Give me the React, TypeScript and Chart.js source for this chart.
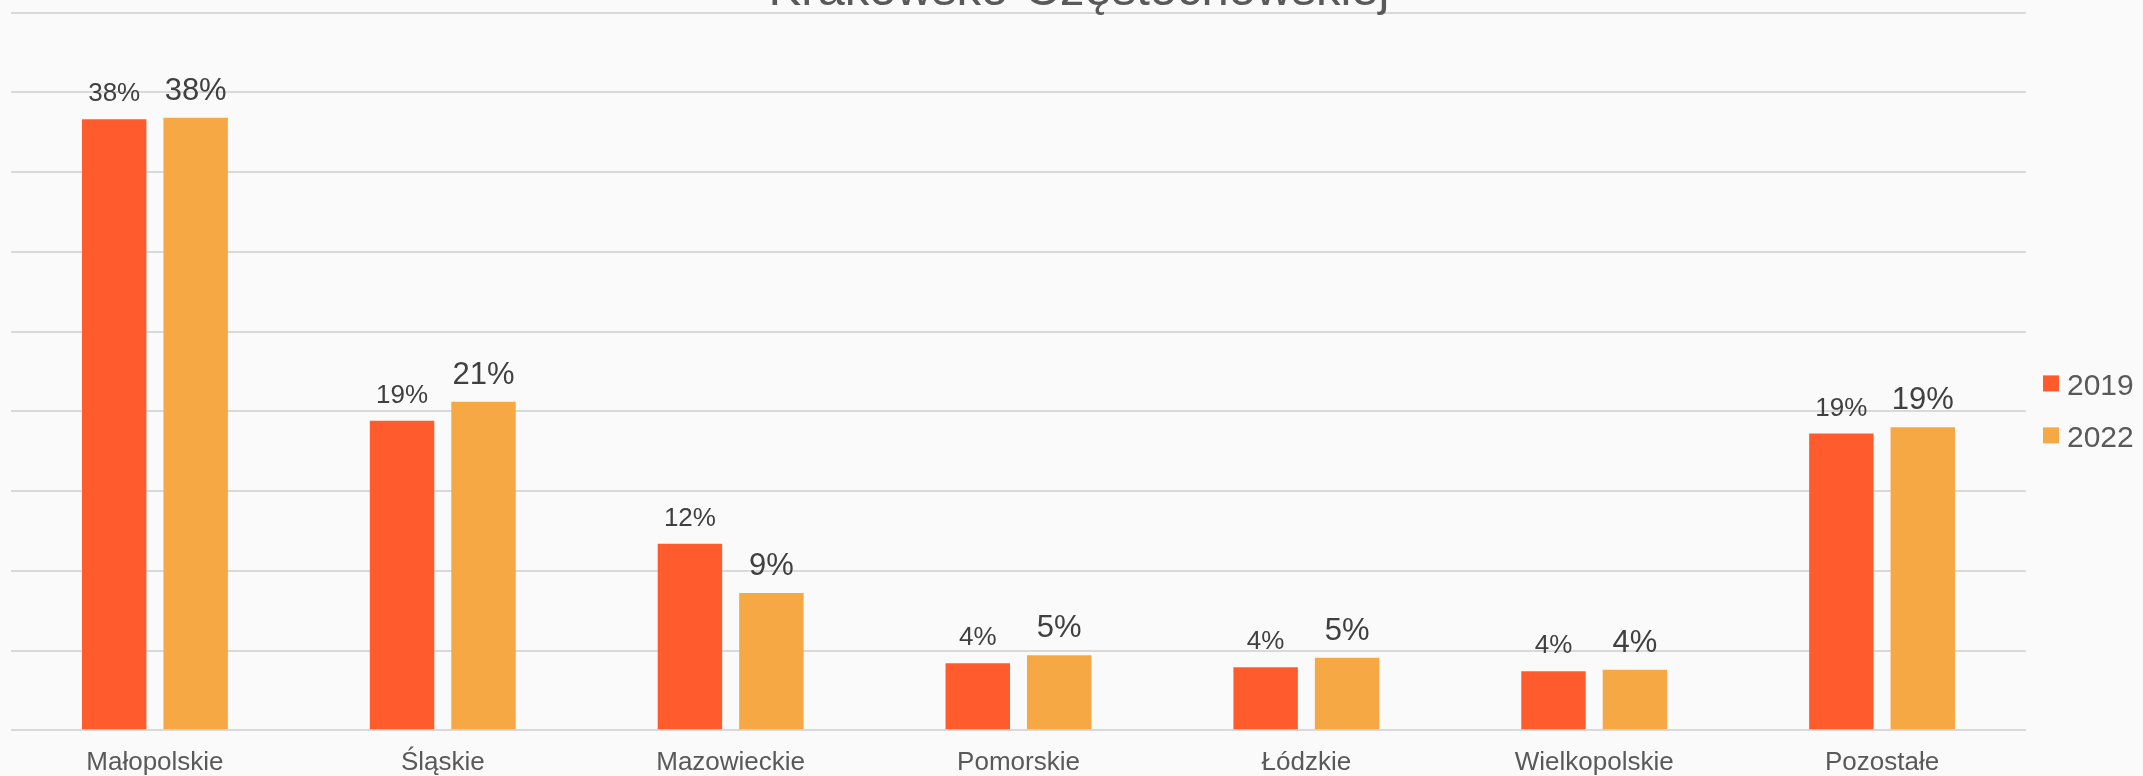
import React, { useEffect, useRef } from "react";
import { Chart, registerables } from "chart.js";

Chart.register(...registerables);

const titleText = "Krakowsko-Częstochowskiej";
const categories = ["Małopolskie", "Śląskie", "Mazowieckie", "Pomorskie", "Łódzkie", "Wielkopolskie", "Pozostałe"];
const seriesNames = ["2019", "2022"];
const values2019 = [38.3, 19.4, 11.7, 4.2, 3.95, 3.7, 18.6];
const values2022 = [38.4, 20.6, 8.6, 4.7, 4.55, 3.8, 19.0];
const labels2019 = ["38%", "19%", "12%", "4%", "4%", "4%", "19%"];
const labels2022 = ["38%", "21%", "9%", "5%", "5%", "4%", "19%"];
const yMax = 45;
const yStep = 5;

const FONT = "'Liberation Sans', Arial, sans-serif";
const COLORS = ["#FF5B2C", "#F6A845"];
const BG = "#FAFAFA";

export default function App() {
  const ref = useRef<HTMLCanvasElement | null>(null);

  useEffect(() => {
    document.body.style.margin = "0";
    document.body.style.background = BG;
    const canvas = ref.current;
    if (!canvas) return;

    const bgPlugin = {
      id: "bg",
      beforeDraw(chart: any) {
        const { ctx, width, height } = chart;
        ctx.save();
        ctx.fillStyle = BG;
        ctx.fillRect(0, 0, width, height);
        ctx.restore();
      },
    };

    const titlePlugin = {
      id: "customTitle",
      afterDraw(chart: any) {
        const { ctx, width } = chart;
        ctx.save();
        ctx.font = `49px ${FONT}`;
        ctx.fillStyle = "#595959";
        ctx.textAlign = "center";
        ctx.textBaseline = "alphabetic";
        ctx.fillText(titleText, width / 2 + 7.5, 4.5);
        ctx.restore();
      },
    };

    const labelSets = [labels2019, labels2022];
    const labelSizes = [26, 31];
    const dataLabelPlugin = {
      id: "dataLabels",
      afterDatasetsDraw(chart: any) {
        const { ctx } = chart;
        ctx.save();
        ctx.fillStyle = "#404040";
        ctx.textAlign = "center";
        ctx.textBaseline = "alphabetic";
        chart.data.datasets.forEach((_ds: any, di: number) => {
          const meta = chart.getDatasetMeta(di);
          ctx.font = `${labelSizes[di]}px ${FONT}`;
          meta.data.forEach((el: any, i: number) => {
            ctx.fillText(labelSets[di][i], el.x, el.y - 18);
          });
        });
        ctx.restore();
      },
    };

    const legendPlugin = {
      id: "customLegend",
      afterDraw(chart: any) {
        const { ctx, chartArea } = chart;
        const x = chartArea.right + 17;
        const top0 = (chartArea.top + chartArea.bottom) / 2 + 4;
        ctx.save();
        ctx.font = `30px ${FONT}`;
        ctx.textAlign = "left";
        ctx.textBaseline = "alphabetic";
        chart.data.datasets.forEach((ds: any, i: number) => {
          const y = top0 + i * 52;
          ctx.fillStyle = ds.backgroundColor;
          ctx.fillRect(x, y, 16, 16);
          ctx.fillStyle = "#595959";
          ctx.fillText(ds.label, x + 24, y + 19.5);
        });
        ctx.restore();
      },
    };

    const chart = new Chart(canvas, {
      type: "bar",
      data: {
        labels: categories,
        datasets: [
          {
            label: seriesNames[0],
            data: values2019,
            backgroundColor: COLORS[0],
            categoryPercentage: 0.566,
            barPercentage: 0.791,
          },
          {
            label: seriesNames[1],
            data: values2022,
            backgroundColor: COLORS[1],
            categoryPercentage: 0.566,
            barPercentage: 0.791,
          },
        ],
      },
      options: {
        animation: false,
        responsive: false,
        maintainAspectRatio: false,
        layout: { padding: { left: 11, right: 117, top: 12.5, bottom: 0 } },
        plugins: {
          legend: { display: false },
          title: { display: false },
          tooltip: { enabled: false },
        },
        scales: {
          x: {
            grid: { display: false, drawTicks: false },
            border: { display: false },
            ticks: {
              color: "#595959",
              font: { family: FONT, size: 26 },
              padding: 17,
              maxRotation: 0,
              autoSkip: false,
            },
            afterFit(scale: any) {
              scale.height = 45.7;
            },
          },
          y: {
            min: 0,
            max: yMax,
            ticks: { display: false, stepSize: yStep },
            grid: { color: "#D9D9D9", lineWidth: 2, drawTicks: false },
            border: { display: false },
            afterFit(scale: any) {
              scale.width = 0;
            },
          },
        },
      },
      plugins: [bgPlugin, dataLabelPlugin, legendPlugin, titlePlugin],
    });

    return () => chart.destroy();
  }, []);

  return (
    <div style={{ width: 2143, height: 776 }}>
      <canvas ref={ref} width={2143} height={776} style={{ display: "block", width: 2143, height: 776 }} />
    </div>
  );
}
